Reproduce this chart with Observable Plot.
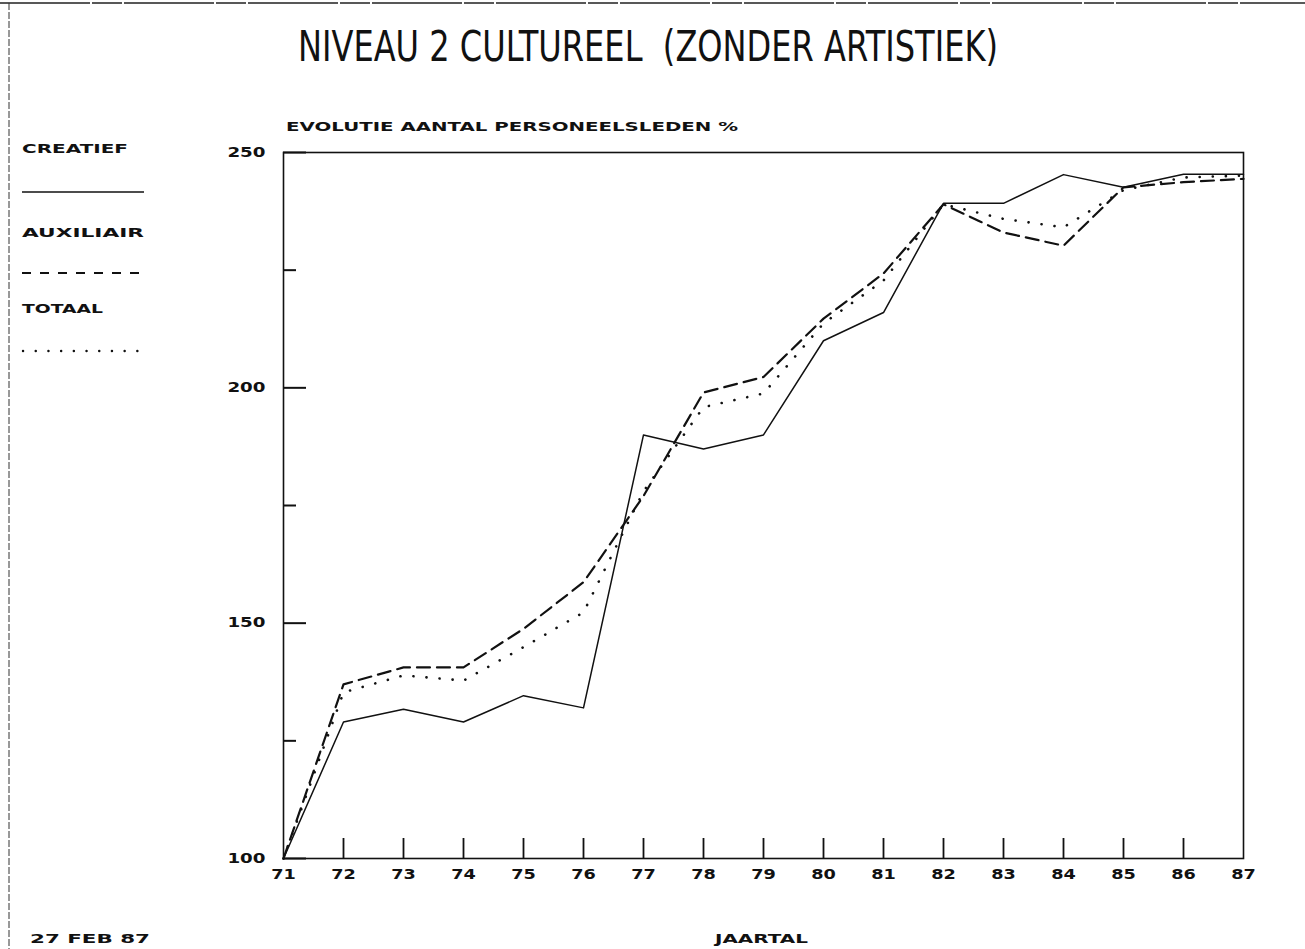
<!DOCTYPE html>
<html>
<head>
<meta charset="utf-8">
<script src="https://cdn.jsdelivr.net/npm/d3@7"></script>
<script src="https://cdn.jsdelivr.net/npm/@observablehq/plot@0.6"></script>
<style>
  html, body { margin: 0; padding: 0; background: #fff; }
  #page { position: relative; width: 1305px; height: 949px; overflow: hidden; background: #fff; }
  #chart { position: absolute; left: 0; top: 0; }
  #overlay { position: absolute; left: 0; top: 0; pointer-events: none; }
  #overlay text { white-space: pre; }
</style>
</head>
<body>
<div id="page">
  <div id="chart"></div>
  <svg id="overlay" width="1305" height="949"></svg>
</div>
<script>
// ---------- data ----------
const years      = [71, 72, 73, 74, 75, 76, 77, 78, 79, 80, 81, 82, 83, 84, 85, 86, 87];
const creatief   = [100, 129, 131.7, 129, 134.6, 132, 190, 187, 190, 210, 216, 239.2, 239.2, 245.3, 242.6, 245.4, 245.4];
const auxiliair  = [100, 137, 140.6, 140.6, 148.8, 158.7, 177, 199, 202.3, 214.7, 224.3, 239, 233, 230.2, 242.6, 243.7, 244.4];
const totaal     = [100, 135.3, 138.9, 137.8, 144.9, 152.3, 178, 195.9, 198.8, 213.7, 222.8, 239, 235.9, 234.1, 242, 244.7, 245.1];
const seriesNames = ["CREATIEF", "AUXILIAIR", "TOTAAL"];
const xTickLabels = [71, 72, 73, 74, 75, 76, 77, 78, 79, 80, 81, 82, 83, 84, 85, 86, 87];
const xInnerTicks = [72, 73, 74, 75, 76, 77, 78, 79, 80, 81, 82, 83, 84, 85, 86];
const yMajorTicks = [100, 150, 200, 250];
const yMinorTicks = [125, 175, 225];
const titleText    = "NIVEAU 2 CULTUREEL  (ZONDER ARTISTIEK)";
const subtitleText = "EVOLUTIE AANTAL PERSONEELSLEDEN %";
const xAxisLabel   = "JAARTAL";
const dateText     = "27 FEB 87";

// ---------- table ----------
const seriesValues = [creatief, auxiliair, totaal];
const rows = [];
seriesNames.forEach((name, s) => {
  years.forEach((yr, i) => rows.push({series: name, year: yr, value: seriesValues[s][i]}));
});
const of = name => rows.filter(d => d.series === name);

const INK = "#111";
const tickFont = {fontFamily: "DejaVu Sans", fontSize: 13.5, fontWeight: "bold", fill: INK};

const chart = Plot.plot({
  width: 1305,
  height: 949,
  marginLeft: 283,
  marginRight: 62,
  marginTop: 152,
  marginBottom: 91,
  x: {domain: [71, 87]},
  y: {domain: [100, 250]},
  style: {background: "transparent", color: INK, fontFamily: "DejaVu Sans"},
  marks: [
    Plot.frame({stroke: INK, strokeWidth: 1.6}),
    // inward ticks
    Plot.axisY({ticks: yMajorTicks, anchor: "left", tickSize: 23, dx: 23, fill: "none", label: null, stroke: INK, strokeWidth: 2}),
    Plot.axisY({ticks: yMinorTicks, anchor: "left", tickSize: 13, dx: 13, fill: "none", label: null, stroke: INK, strokeWidth: 2}),
    Plot.axisX({ticks: xInnerTicks, anchor: "bottom", tickSize: 20, dy: -20, fill: "none", label: null, stroke: INK, strokeWidth: 1.8}),
    // tick labels
    Plot.axisY({ticks: yMajorTicks, anchor: "left", tickSize: 0, tickPadding: 18, label: null, tickFormat: d => String(d), ...tickFont}),
    Plot.axisX({ticks: xTickLabels, anchor: "bottom", tickSize: 0, tickPadding: 11, label: null, tickFormat: d => String(d), ...tickFont}),
    // series
    Plot.line(of("CREATIEF"), {x: "year", y: "value", stroke: INK, strokeWidth: 1.5}),
    Plot.line(of("AUXILIAIR"), {x: "year", y: "value", stroke: INK, strokeWidth: 2.2, strokeDasharray: "13,7"}),
    Plot.line(of("TOTAAL"), {x: "year", y: "value", stroke: INK, strokeWidth: 2.6, strokeDasharray: "0.1,13", strokeLinecap: "round"})
  ]
});
document.getElementById("chart").appendChild(chart);

// stretch tick labels to the wide plotter font width
chart.querySelectorAll('g[aria-label="y-axis tick label"] text').forEach(t => {
  t.setAttribute("textLength", t.textContent.length * 12.7);
  t.setAttribute("lengthAdjust", "spacingAndGlyphs");
});
chart.querySelectorAll('g[aria-label="x-axis tick label"] text').forEach(t => {
  t.setAttribute("textLength", t.textContent.length * 12.3);
  t.setAttribute("lengthAdjust", "spacingAndGlyphs");
});

// ---------- annotations (title, legend, captions) ----------
const ov = d3.select("#overlay");
// page border
ov.append("line").attr("x1", 0).attr("x2", 1305).attr("y1", 3).attr("y2", 3)
  .attr("stroke", "#222").attr("stroke-width", 1.6).attr("stroke-dasharray", "90,2,30,2");
ov.append("line").attr("x1", 9).attr("x2", 9).attr("y1", 3).attr("y2", 949)
  .attr("stroke", "#333").attr("stroke-width", 1).attr("stroke-dasharray", "7,2");

function txt(s, x, y, size, weight, len, family) {
  ov.append("text").attr("x", x).attr("y", y)
    .attr("xml:space", "preserve")
    .attr("font-family", family || "DejaVu Sans").attr("font-size", size).attr("font-weight", weight)
    .attr("fill", INK).attr("textLength", len).attr("lengthAdjust", "spacingAndGlyphs").text(s);
}
txt(titleText, 298, 61, 42, 300, 700, "DejaVu Sans Condensed, DejaVu Sans");
txt(subtitleText, 286, 130.5, 12.5, "bold", 452);
txt(seriesNames[0], 22, 152.5, 12.5, "bold", 106);
txt(seriesNames[1], 22, 236.5, 12.5, "bold", 122);
txt(seriesNames[2], 22, 312.5, 12.5, "bold", 81);
txt(dateText, 30, 942.5, 12.5, "bold", 120);
txt(xAxisLabel, 715, 942.5, 12.5, "bold", 93);

// legend swatches
ov.append("line").attr("x1", 22).attr("x2", 144).attr("y1", 192).attr("y2", 192)
  .attr("stroke", INK).attr("stroke-width", 1.5);
ov.append("line").attr("x1", 22).attr("x2", 144).attr("y1", 273).attr("y2", 273)
  .attr("stroke", INK).attr("stroke-width", 2).attr("stroke-dasharray", "9,9");
ov.append("line").attr("x1", 23).attr("x2", 144).attr("y1", 351).attr("y2", 351)
  .attr("stroke", INK).attr("stroke-width", 2.4).attr("stroke-dasharray", "0.1,12.6").attr("stroke-linecap", "round");
</script>
</body>
</html>
